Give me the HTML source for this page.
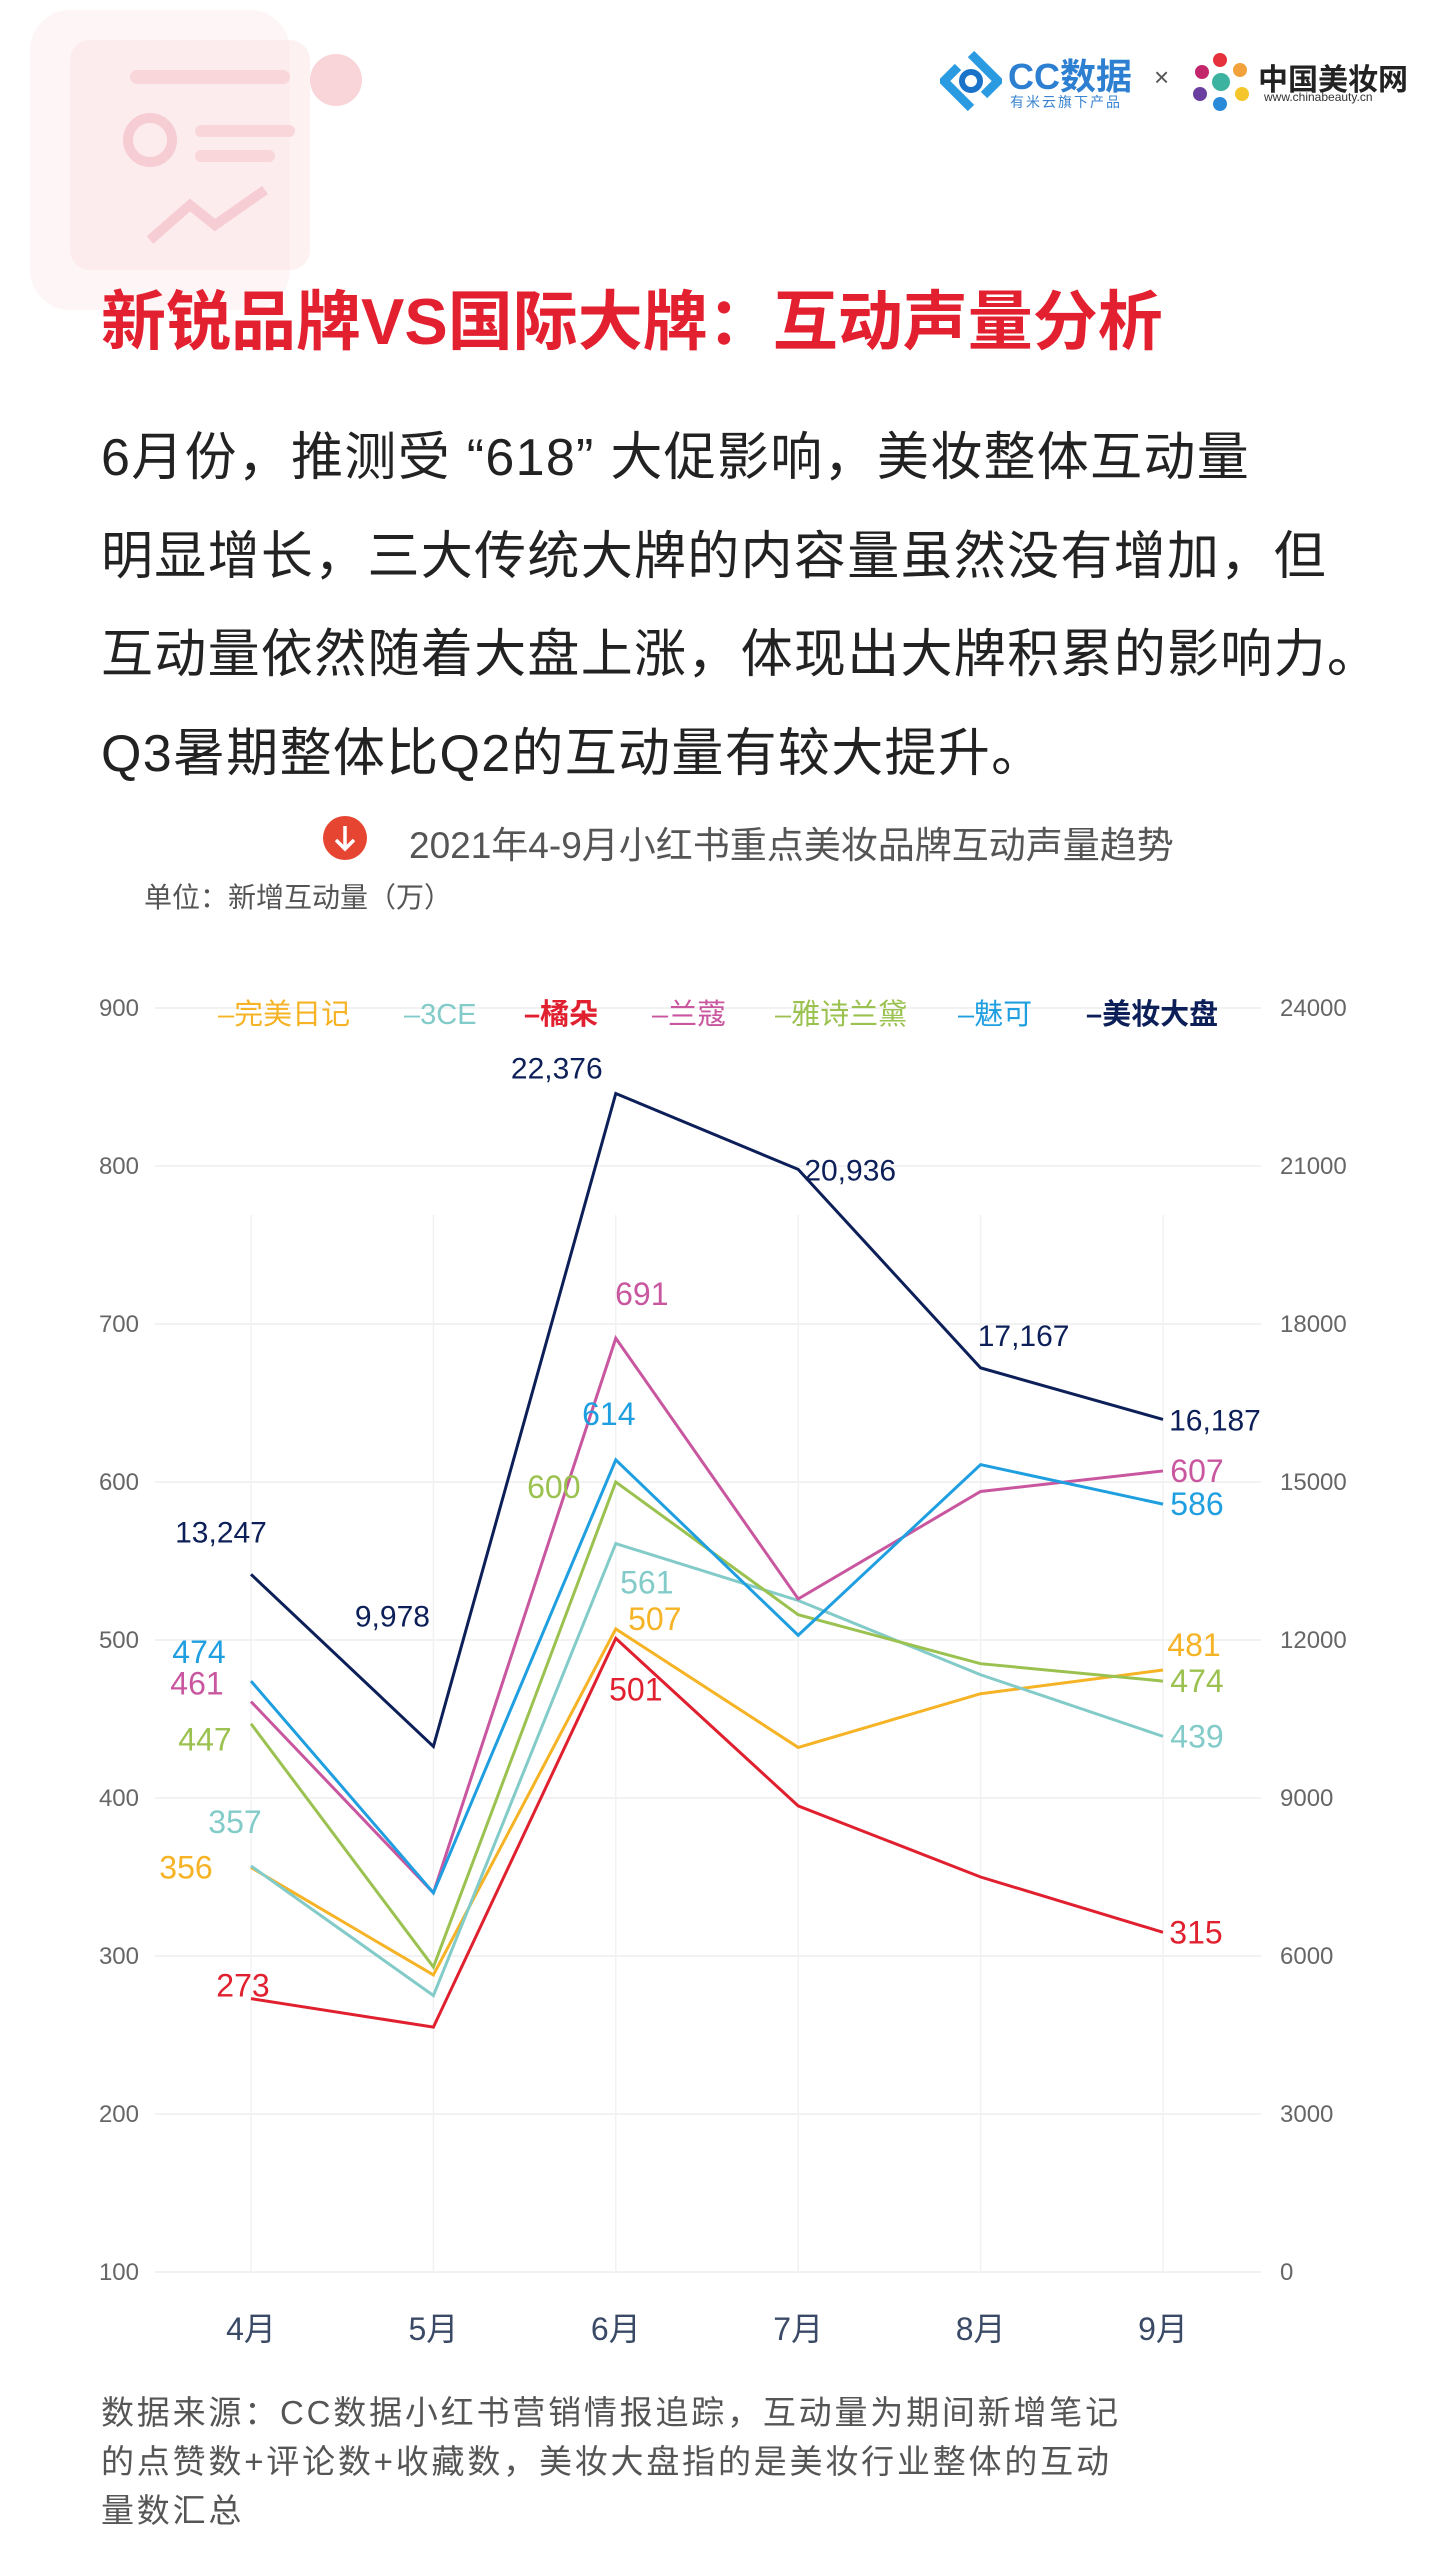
<!DOCTYPE html>
<html><head><meta charset="utf-8">
<style>
html,body{margin:0;padding:0;background:#fff;}
body{width:1441px;height:2560px;position:relative;overflow:hidden;font-family:"Liberation Sans","Noto Sans CJK SC",sans-serif;}
.abs{position:absolute;white-space:nowrap;}
</style></head>
<body>
<svg class="abs" style="left:0;top:0" width="420" height="320">
  <rect x="30" y="10" width="260" height="300" rx="40" fill="#fdeef0" opacity="0.6"/>
  <rect x="70" y="40" width="240" height="230" rx="20" fill="#fbe3e6" opacity="0.5"/>
  <circle cx="336" cy="80" r="26" fill="#f7c9cf" opacity="0.8"/>
  <rect x="130" y="70" width="160" height="14" rx="7" fill="#f9d6da"/>
  <circle cx="150" cy="140" r="22" fill="none" stroke="#f6cdd2" stroke-width="10"/>
  <rect x="195" y="125" width="100" height="12" rx="6" fill="#f9d6da"/>
  <rect x="195" y="150" width="80" height="12" rx="6" fill="#f9d6da"/>
  <polyline points="150,240 190,205 215,225 265,190" fill="none" stroke="#f6cdd2" stroke-width="10"/>
</svg>
<svg class="abs" style="left:940px;top:50px" width="62" height="62">
  <path d="M31 4 L58 31 L44 45" fill="none" stroke="#2a9be0" stroke-width="9"/>
  <path d="M31 58 L4 31 L18 17" fill="none" stroke="#2a9be0" stroke-width="9"/>
  <circle cx="31" cy="31" r="9" fill="none" stroke="#1a73c8" stroke-width="6"/>
</svg>
<div class="abs" style="left:1008px;top:48px;font-size:36px;color:#2d7fd1;font-weight:bold;">CC数据</div>
<div class="abs" style="left:1010px;top:92px;font-size:14px;color:#3a84cf;letter-spacing:2px;">有米云旗下产品</div>
<div class="abs" style="left:1154px;top:62px;font-size:26px;color:#555;">×</div>
<svg class="abs" style="left:1190px;top:52px" width="62" height="60">
  <circle cx="12" cy="20" r="7" fill="#c3266b"/><circle cx="30" cy="8" r="7" fill="#e5323c"/>
  <circle cx="50" cy="18" r="7" fill="#f2a23a"/><circle cx="52" cy="42" r="7" fill="#f5c52c"/>
  <circle cx="30" cy="52" r="7" fill="#2a8ad8"/><circle cx="10" cy="42" r="7" fill="#6a3fa0"/>
  <circle cx="31" cy="30" r="9" fill="#3bb3a0"/>
</svg>
<div class="abs" style="left:1258px;top:55px;font-size:30px;color:#222;font-weight:bold;">中国美妆网</div>
<div class="abs" style="left:1264px;top:90px;font-size:12px;color:#333;">www.chinabeauty.cn</div>

<div class="abs" style="left:101px;top:285px;font-size:65px;font-weight:bold;color:#e3202f;line-height:74px;">新锐品牌VS国际大牌：互动声量分析</div>
<div class="abs" style="left:101px;top:409px;font-size:52px;color:#222;line-height:98.5px;letter-spacing:1.3px;white-space:nowrap;">
6月份，推测受 “618” 大促影响，美妆整体互动量<br>明显增长，三大传统大牌的内容量虽然没有增加，但<br>互动量依然随着大盘上涨，体现出大牌积累的影响力。<br>Q3暑期整体比Q2的互动量有较大提升。
</div>
<svg class="abs" style="left:322px;top:815px" width="46" height="46">
  <circle cx="23" cy="23" r="22" fill="#e64532"/>
  <path d="M23 11 V33 M14 25 L23 34 L32 25" fill="none" stroke="#fff" stroke-width="3.5"/>
</svg>
<div class="abs" style="left:409px;top:815px;font-size:37px;color:#555;">2021年4-9月小红书重点美妆品牌互动声量趋势</div>
<div class="abs" style="left:144px;top:876px;font-size:28px;color:#555;">单位：新增互动量（万）</div>

<svg id="chart" class="abs" style="left:0;top:0" width="1441" height="2560"></svg>

<div class="abs" style="left:101px;top:2388px;font-size:33px;color:#555;line-height:49px;letter-spacing:2.8px;">数据来源：CC数据小红书营销情报追踪，互动量为期间新增笔记<br>的点赞数+评论数+收藏数，美妆大盘指的是美妆行业整体的互动<br>量数汇总</div>

<script>
const categories = ['4月','5月','6月','7月','8月','9月'];
const leftTicks = [100,200,300,400,500,600,700,800,900];
const rightTicks = [0,3000,6000,9000,12000,15000,18000,21000,24000];
const seriesNames = ['完美日记','3CE','橘朵','兰蔻','雅诗兰黛','魅可','美妆大盘'];
const wanmei = [356,288,507,432,466,481];
const ce3 = [357,275,561,525,478,439];
const juduo = [273,255,501,395,350,315];
const lancome = [461,340,691,526,594,607];
const estee = [447,293,600,516,485,474];
const mac = [474,340,614,503,611,586];
const market = [13247,9978,22376,20936,17167,16187];

const colors = ['#f5b325','#82cbc8','#e0202e','#c9579f','#9bc250','#1f9fe0','#0d1f58'];
const seriesData = [wanmei,ce3,juduo,lancome,estee,mac,market];
const labelIdx = [[0,2,5],[0,2,5],[0,2,5],[0,2,5],[0,2,5],[0,2,5],[0,1,2,3,4,5]];
const labelOff = [
 [[-65,0],[39,-10],[31,-25]],
 [[-16,-44],[31,39],[34,0]],
 [[-8,-13],[20,51],[33,0]],
 [[-54,-18],[26,-44],[34,0]],
 [[-46,16],[-62,5],[34,0]],
 [[-52,-29],[-7,-46],[34,0]],
 [[-30,-43],[-41,-131],[-59,-26],[52,0],[43,-33],[52,0]]
];

const svg = document.getElementById('chart');
const NS = 'http://www.w3.org/2000/svg';
const x0 = 251, xStep = 182.4;
function xAt(i){ return x0 + i*xStep; }
function yL(v){ return 2272 - (v-100)*1.58; }
function yR(v){ return 2272 - v/24000*1264; }
function mk(tag, attrs){ const e=document.createElementNS(NS,tag); for(const k in attrs) e.setAttribute(k,attrs[k]); svg.appendChild(e); return e; }

leftTicks.forEach((t)=>{
  const g = mk('line',{x1:155,x2:1261,y1:yL(t),y2:yL(t),stroke:'#ededed','stroke-width':1.5});
  
  
  const tx = mk('text',{x:139,y:yL(t)+8,'text-anchor':'end','font-size':24,fill:'#666','font-family':'Liberation Sans, sans-serif'});
  tx.textContent = t;
  
  
});
rightTicks.forEach((t)=>{
  const tx = mk('text',{x:1280,y:yR(t)+8,'text-anchor':'start','font-size':24,fill:'#666','font-family':'Liberation Sans, sans-serif'});
  tx.textContent = t;
  
  
});
categories.forEach((c,i)=>{
  const l = mk('line',{x1:xAt(i),x2:xAt(i),y1:1215,y2:2272,stroke:'#f2f2f2','stroke-width':1.5});
  
  
  const tx = mk('text',{x:xAt(i),y:2340,'text-anchor':'middle','font-size':32,fill:'#3a4a66','font-family':'Liberation Sans, Noto Sans CJK SC, sans-serif'});
  tx.textContent = c;
  
  
});
seriesData.forEach((d,s)=>{
  const yf = s===6 ? yR : yL;
  const pts = d.map((v,i)=>xAt(i)+','+yf(v)).join(' ');
  const pl = mk('polyline',{points:pts,fill:'none',stroke:colors[s],'stroke-width':3,'stroke-linejoin':'miter'});
  
  
});
seriesData.forEach((d,s)=>{
  const yf = s===6 ? yR : yL;
  labelIdx[s].forEach((i,k)=>{
    const o = labelOff[s][k];
    const txt = s===6 ? d[i].toLocaleString('en-US') : String(d[i]);
    const tx = mk('text',{x:xAt(i)+o[0],y:yf(d[i])+o[1]+11,'text-anchor':'middle','font-size':s===6?30:32,fill:colors[s],'font-family':'Liberation Sans, sans-serif'});
    tx.textContent = txt;
    
    
  });
});
const legendX = [218,404,524,652,775,958,1086];
seriesNames.forEach((n,s)=>{
  const tx = mk('text',{x:legendX[s],y:1024,'text-anchor':'start','font-size':29,fill:colors[s],'font-family':'Liberation Sans, Noto Sans CJK SC, sans-serif','font-weight':s===6||s===2?'bold':'normal'});
  tx.textContent = '–'+n;
  
  
});
</script>
</body></html>
